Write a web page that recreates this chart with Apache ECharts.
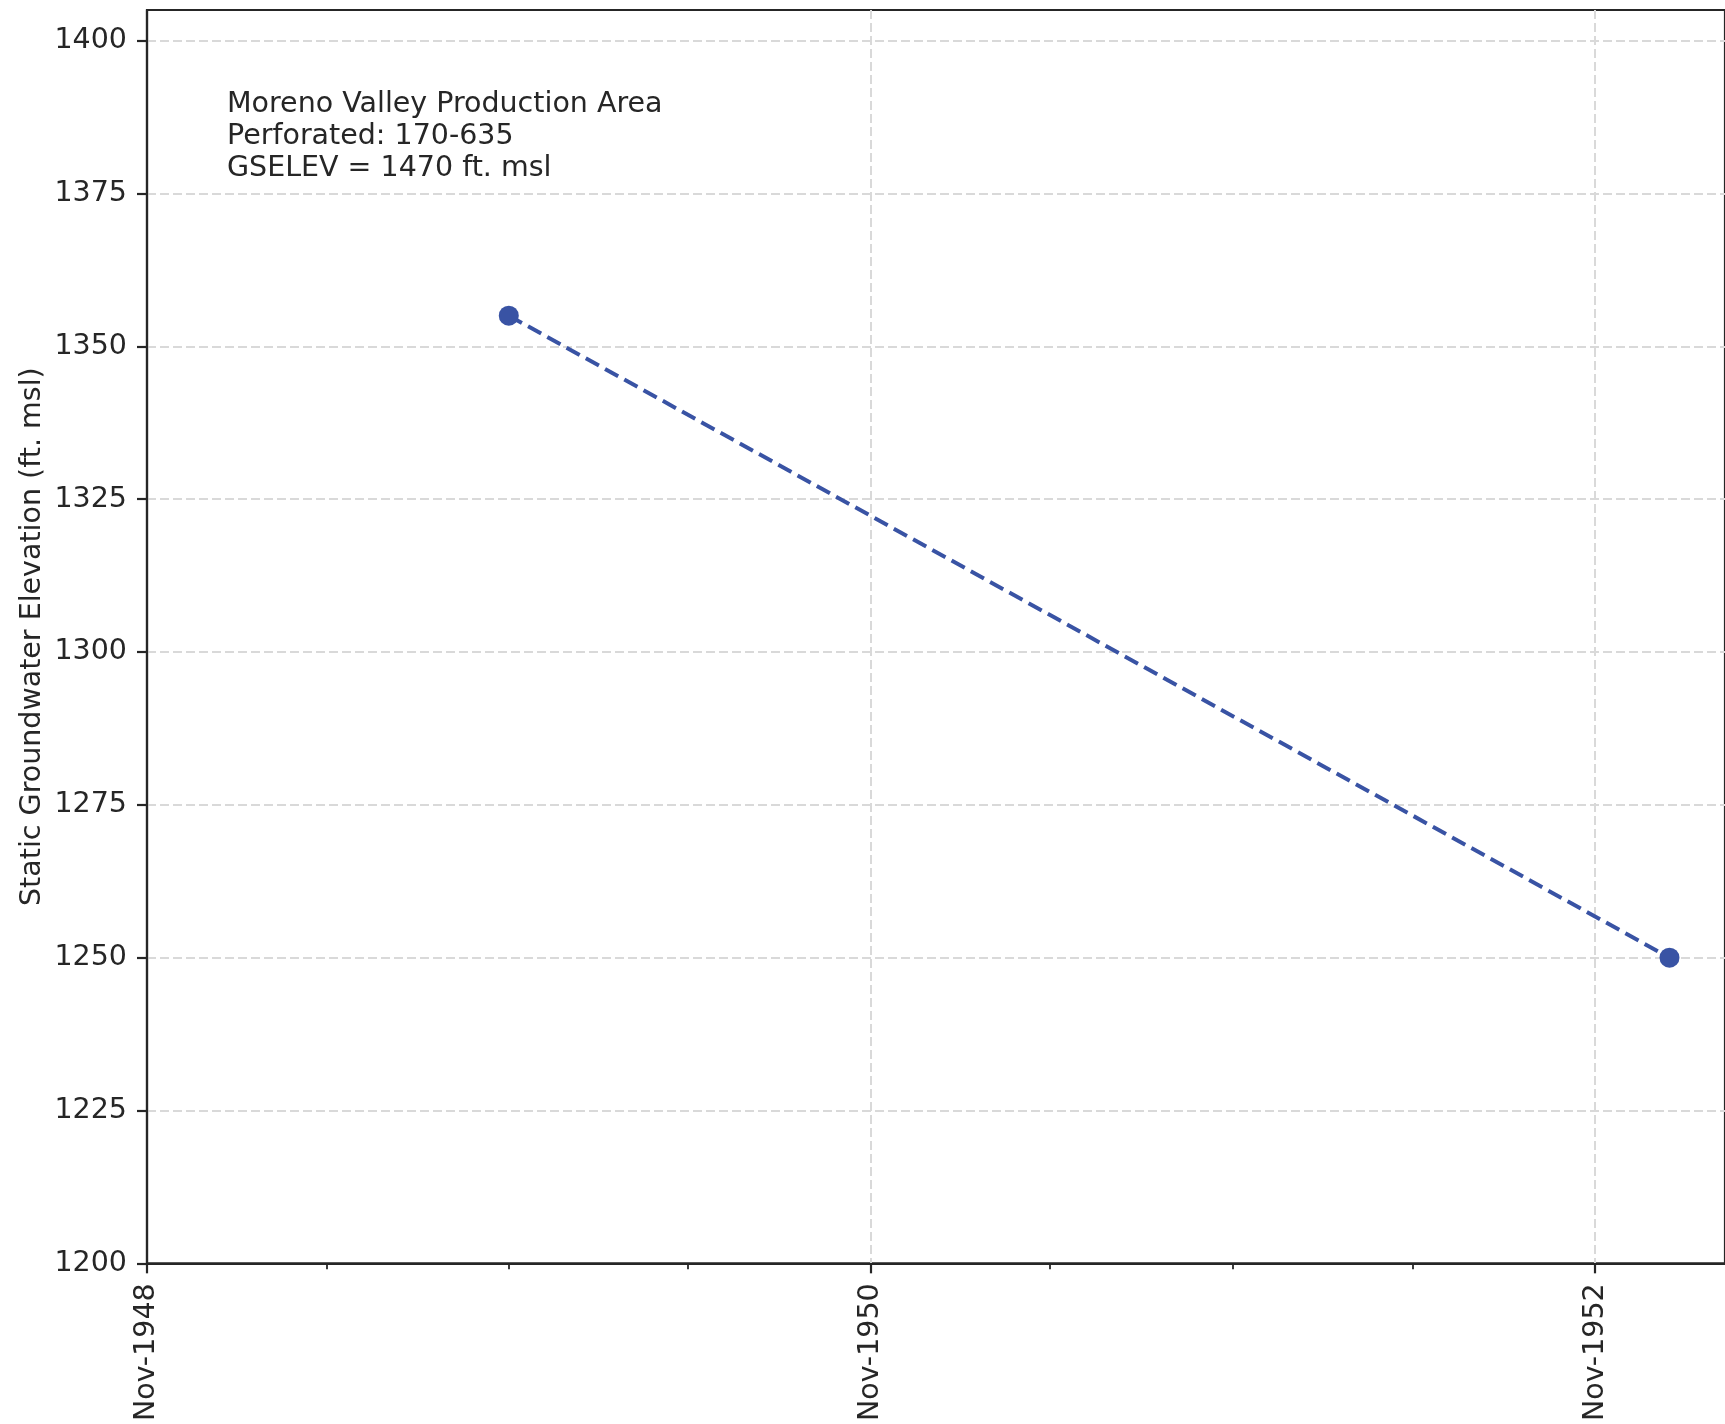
<!DOCTYPE html>
<html>
<head>
<meta charset="utf-8">
<script src="https://cdn.jsdelivr.net/npm/echarts@6/dist/echarts.min.js"></script>
<style>
html,body{margin:0;padding:0;background:#fff;}
#chart{width:1725px;height:1424px;}
</style>
</head>
<body>
<div id="chart"></div>
<script>
// ---- data ----
const obsDates = ['1949-11-01', '1953-01-15'];
const elevations = [1355, 1250];
const yTickValues = [1200, 1225, 1250, 1275, 1300, 1325, 1350, 1375, 1400];
const xMajorTickDates = ['1948-11-01', '1950-11-01', '1952-11-01'];
const xMinorTickDates = ['1949-05-01', '1949-11-01', '1950-05-01', '1951-05-01', '1951-11-01', '1952-05-01'];
const infoLines = ['Moreno Valley Production Area', 'Perforated: 170-635', 'GSELEV = 1470 ft. msl'];
const yAxisTitle = 'Static Groundwater Elevation (ft. msl)';
const monthNames = ['Jan','Feb','Mar','Apr','May','Jun','Jul','Aug','Sep','Oct','Nov','Dec'];

const DAY = 86400000;
const toTs = s => { const p = s.split('-').map(Number); return Date.UTC(p[0], p[1]-1, p[2]); };
const xMin = toTs('1948-11-01');
const xMax = xMin + 1592 * DAY;
const majorTs = xMajorTickDates.map(toTs);
const minorTs = xMinorTickDates.map(toTs);
const seriesData = obsDates.map((d, i) => [toTs(d), elevations[i]]);

const FONT = 'DejaVu Sans';
const FS = 28.5;
const INK = '#262626';
const GRIDC = '#d9d9d9';

const chart = echarts.init(document.getElementById('chart'), null, {renderer: 'canvas'});
chart.setOption({
  animation: false,
  backgroundColor: '#ffffff',
  textStyle: {fontFamily: FONT},
  grid: {left: 147, top: 10, right: -2, bottom: 1424 - 1266, show: true, borderColor: INK, borderWidth: 2.2, backgroundColor: 'transparent'},
  xAxis: [{
    type: 'value', min: xMin, max: xMax, interval: 730.5 * DAY,
    axisLine: {show: true, lineStyle: {color: INK, width: 2.2}},
    axisTick: {show: true, length: 10, lineStyle: {color: INK, width: 2.2}, customValues: majorTs},
    axisLabel: {
      show: true, rotate: 90, margin: 20, fontSize: FS, color: INK, fontFamily: FONT,
      customValues: majorTs,
      formatter: v => { const d = new Date(v); return monthNames[d.getUTCMonth()] + '-' + d.getUTCFullYear(); }
    },
    splitLine: {show: true, lineStyle: {color: GRIDC, width: 2, type: [9, 4]}}
  }, {
    type: 'value', min: xMin, max: xMax, position: 'bottom',
    axisLine: {show: false},
    axisTick: {show: true, length: 6, lineStyle: {color: INK, width: 1.8}, customValues: minorTs},
    axisLabel: {show: false},
    splitLine: {show: false}
  }],
  yAxis: {
    type: 'value', min: 1200, max: 1405, interval: 25,
    name: yAxisTitle, nameLocation: 'middle', nameGap: 100, nameRotate: 90, nameMoveOverlap: false,
    nameTextStyle: {fontSize: FS, color: INK, fontFamily: FONT},
    axisLine: {show: true, lineStyle: {color: INK, width: 2.2}},
    axisTick: {show: true, length: 10, lineStyle: {color: INK, width: 2.2}, customValues: yTickValues},
    axisLabel: {show: true, margin: 20, fontSize: FS, color: INK, fontFamily: FONT, customValues: yTickValues, formatter: v => String(v)},
    splitLine: {show: true, lineStyle: {color: GRIDC, width: 2, type: [9, 4]}}
  },
  graphic: [{
    type: 'text', left: 227, top: 89, z: 100,
    style: {text: infoLines.join('\n'), fontSize: FS, lineHeight: 32, fill: INK, fontFamily: FONT}
  }],
  series: [{
    type: 'line', xAxisIndex: 0, data: seriesData,
    symbol: 'circle', symbolSize: 20,
    itemStyle: {color: '#3953a4'},
    lineStyle: {color: '#3953a4', width: 4, type: [15, 7]}
  }]
});
</script>
</body>
</html>
